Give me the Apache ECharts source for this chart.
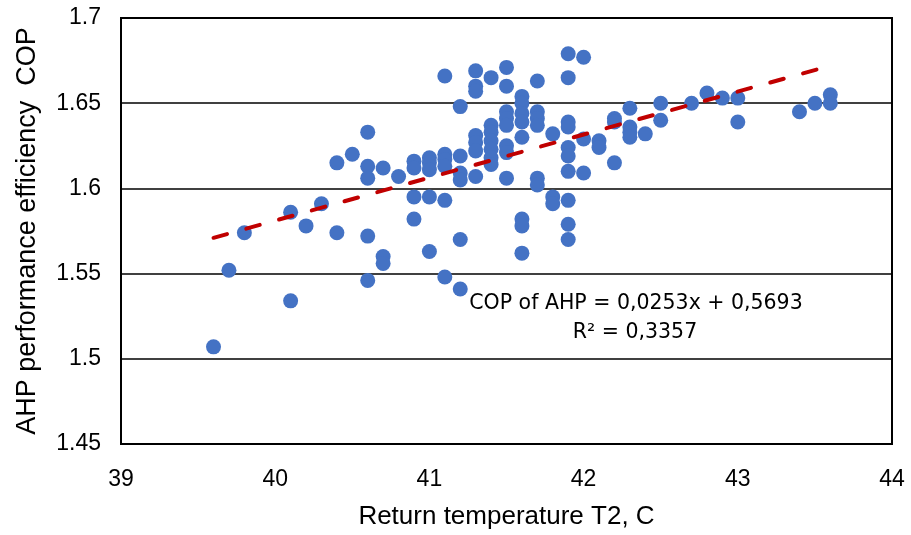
<!DOCTYPE html>
<html>
<head>
<meta charset="utf-8">
<script src="https://cdn.jsdelivr.net/npm/echarts@6/dist/echarts.min.js"></script>
<style>
  html, body { margin: 0; padding: 0; background: #fff; }
  #chart { width: 911px; height: 535px; }
</style>
</head>
<body>
<div id="chart"></div>
<script>
// Return temperature T2, C (x) and COP (y)
const tempT2 = [
  39.6, 39.7, 39.8,
  40.1, 40.1, 40.2, 40.3, 40.4, 40.4, 40.5,
  40.6, 40.6, 40.6, 40.6, 40.6,
  40.7, 40.7, 40.7, 40.8,
  40.9, 40.9, 40.9, 40.9,
  41.0, 41.0, 41.0, 41.0, 41.0,
  41.1, 41.1, 41.1, 41.1, 41.1, 41.1,
  41.2, 41.2, 41.2, 41.2, 41.2, 41.2,
  41.3, 41.3, 41.3, 41.3, 41.3, 41.3, 41.3,
  41.4, 41.4, 41.4, 41.4, 41.4, 41.4, 41.4,
  41.5, 41.5, 41.5, 41.5, 41.5, 41.5, 41.5, 41.5,
  41.6, 41.6, 41.6, 41.6, 41.6, 41.6, 41.6, 41.6,
  41.7, 41.7, 41.7, 41.7, 41.7, 41.7,
  41.8, 41.8, 41.8,
  41.9, 41.9, 41.9, 41.9, 41.9, 41.9, 41.9, 41.9, 41.9, 41.9,
  42.0, 42.0, 42.0,
  42.1, 42.1,
  42.2, 42.2, 42.2,
  42.3, 42.3, 42.3, 42.3,
  42.4, 42.5, 42.5, 42.7, 42.8, 42.9,
  43.0, 43.0, 43.4, 43.5, 43.6, 43.6
];
const copAHP = [
  1.507, 1.552, 1.574,
  1.586, 1.534, 1.578, 1.591, 1.615, 1.574, 1.620,
  1.633, 1.613, 1.606, 1.572, 1.546,
  1.612, 1.560, 1.556, 1.607,
  1.616, 1.612, 1.595, 1.582,
  1.618, 1.615, 1.611, 1.595, 1.563,
  1.666, 1.620, 1.617, 1.613, 1.593, 1.548,
  1.648, 1.619, 1.609, 1.605, 1.570, 1.541,
  1.669, 1.660, 1.657, 1.631, 1.627, 1.622, 1.607,
  1.665, 1.637, 1.633, 1.628, 1.623, 1.618, 1.614,
  1.671, 1.660, 1.645, 1.641, 1.637, 1.625, 1.621, 1.606,
  1.654, 1.650, 1.644, 1.639, 1.630, 1.582, 1.578, 1.562,
  1.663, 1.645, 1.641, 1.637, 1.606, 1.602,
  1.632, 1.595, 1.591,
  1.679, 1.665, 1.639, 1.636, 1.624, 1.619, 1.610, 1.593, 1.579, 1.570,
  1.677, 1.629, 1.609,
  1.628, 1.624,
  1.641, 1.639, 1.615,
  1.647, 1.636, 1.633, 1.630,
  1.632, 1.650, 1.640, 1.650, 1.656, 1.653,
  1.653, 1.639, 1.645, 1.650, 1.655, 1.650
];
// Linear trend line end points
const trendX = [39.6, 43.6];
const trendY = [1.571, 1.672];
const xTicks = [39, 40, 41, 42, 43, 44];
const yTicks = ['1.45', '1.5', '1.55', '1.6', '1.65', '1.7'];
const equationText = 'COP of AHP = 0,0253x + 0,5693';
const r2Text = 'R\u00B2 = 0,3357';

const points = tempT2.map((t, i) => [t, copAHP[i]]);
const trend = trendX.map((t, i) => [t, trendY[i]]);

const chart = echarts.init(document.getElementById('chart'), null, { renderer: 'canvas' });
const FONT = 'Liberation Sans';
chart.setOption({
  animation: false,
  backgroundColor: '#ffffff',
  grid: { left: 121, right: 19, top: 18, bottom: 91, show: true, borderColor: '#000', borderWidth: 2, backgroundColor: 'transparent' },
  xAxis: {
    type: 'value', min: 39, max: 44, interval: 1,
    name: 'Return temperature T2, C', nameLocation: 'middle', nameGap: 60,
    nameTextStyle: { fontFamily: FONT, fontSize: 26, color: '#000' },
    axisLine: { show: true, lineStyle: { color: '#000', width: 2 } },
    axisTick: { show: false },
    splitLine: { show: false },
    axisLabel: { fontFamily: FONT, fontSize: 23, color: '#000', margin: 24,
      formatter: v => (xTicks.indexOf(v) >= 0 ? String(v) : '') }
  },
  yAxis: {
    type: 'value', min: 1.45, max: 1.7, interval: 0.05,
    name: 'AHP performance efficiency  COP', nameLocation: 'middle', nameGap: 80,
    nameTextStyle: { fontFamily: FONT, fontSize: 27, color: '#000' },
    axisLine: { show: true, lineStyle: { color: '#000', width: 2 } },
    axisTick: { show: false },
    splitLine: { show: true, lineStyle: { color: '#000', width: 1.5 } },
    axisLabel: { fontFamily: FONT, fontSize: 23, color: '#000', margin: 20,
      formatter: v => { const s = String(parseFloat(v.toFixed(2))); return yTicks.indexOf(s) >= 0 ? s : ''; } }
  },
  series: [
    {
      type: 'scatter', data: points, symbol: 'circle', symbolSize: 15,
      itemStyle: { color: '#4472C4', opacity: 1 }, z: 3
    },
    {
      type: 'line', data: trend, showSymbol: false, symbol: 'none',
      lineStyle: { color: '#C00000', width: 4, type: [14, 20], cap: 'round' }, z: 4
    }
  ],
  graphic: [
    { type: 'text', x: 636, y: 304, style: { text: equationText, fontFamily: 'DejaVu Sans', fontSize: 20.5, fill: '#000', align: 'center', verticalAlign: 'middle' } },
    { type: 'text', x: 635, y: 333, style: { text: r2Text, fontFamily: 'DejaVu Sans', fontSize: 20.5, fill: '#000', align: 'center', verticalAlign: 'middle' } }
  ]
});
</script>
</body>
</html>
